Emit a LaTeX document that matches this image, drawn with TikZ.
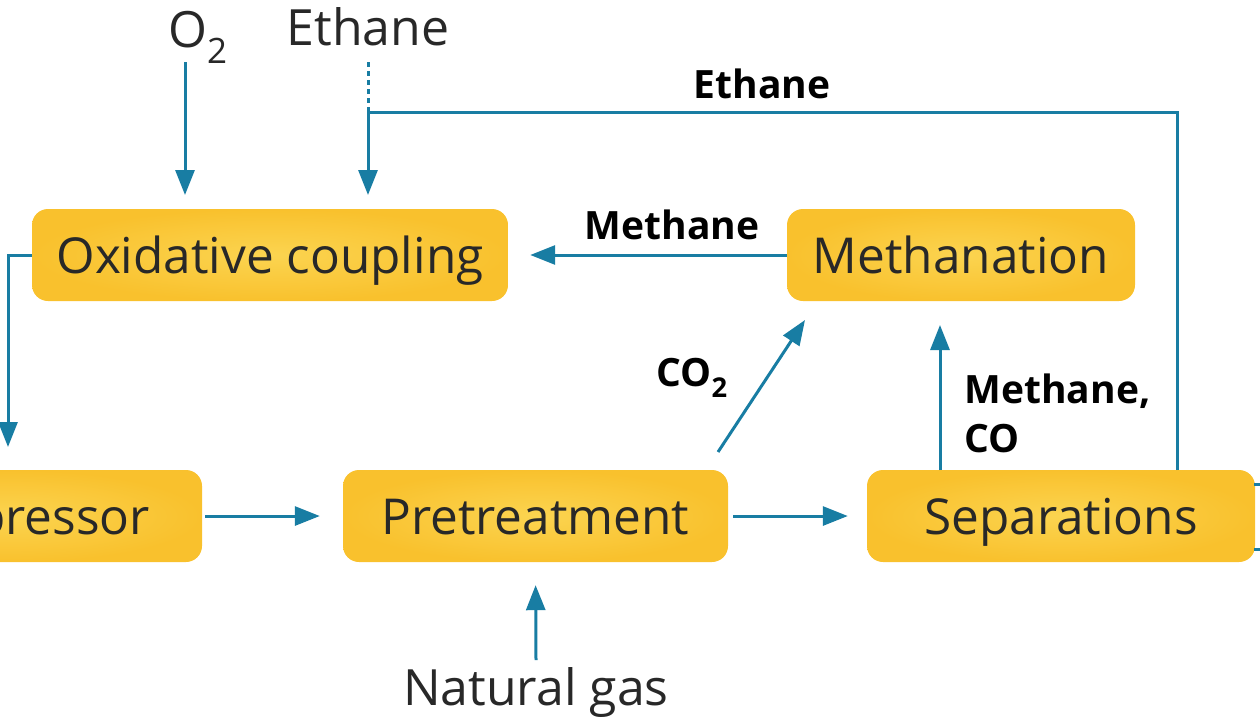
\documentclass[tikz,border=0pt]{standalone}
\usepackage{fontspec}
\setmainfont{Open Sans}
\usetikzlibrary{arrows.meta,calc}
\definecolor{flow}{RGB}{24,125,163}
\definecolor{boxfill}{RGB}{249,193,45}
\definecolor{boxlight}{RGB}{251,212,80}
\definecolor{txt}{RGB}{40,40,40}
\tikzset{
  box/.style={rounded corners=16pt, inner color=boxlight, outer color=boxfill, draw=none,
    minimum height=92pt, text=txt, font=\fontsize{49.5}{54}\selectfont,
    text height=36pt, text depth=0pt},
  flowline/.style={draw=flow, line width=3pt},
  flowarrow/.style={flowline, -{Triangle[length=25pt,width=19pt]}},
  plain/.style={text=txt, font=\fontsize{50}{54}\selectfont},
  tag/.style={text=black, font=\bfseries\fontsize{39}{44}\selectfont}
}
\begin{document}
\begin{tikzpicture}[x=1pt,y=-1pt]
\useasboundingbox (0,0) rectangle (1260,720);
% boxes
\node[box, minimum width=476pt] (ox) at (270,255) {Oxidative coupling};
\node[box, minimum width=348pt] (meth) at (961,255) {Methanation};
\node[box, minimum width=386pt] (comp) at (9,516) {Compressor};
\node[box, minimum width=385pt] (pre) at (535.5,516) {Pretreatment};
\node[box, minimum width=388pt] (sep) at (1061,516) {Separations};
% free labels
\node[plain, anchor=base] (o2) at (198,47) {O\textsubscript{2}};
\node[plain, anchor=base] (eth) at (368,45) {Ethane};
\node[plain, anchor=base] (ng) at (536,705) {Natural gas};
\node[tag, anchor=base] (ethtag) at (762,98) {Ethane};
\node[tag, anchor=base] (methtag) at (672,239) {Methane};
\node[tag, anchor=base] (co2tag) at (692,386) {CO\textsubscript{2}};
\node[tag, anchor=base west] (mctag) at (961,403) {Methane,};
\node[tag, anchor=base west] (cotag) at (961,452) {CO};
% coordinates
\coordinate (o2s) at (185,62);
\coordinate (o2e) at (185,210);
\coordinate (eds) at (368,62);
\coordinate (ej) at (368,112);
\coordinate (ee) at (368,210);
\coordinate (rc) at (1177,112);
\coordinate (rb) at (1177,470);
\coordinate (ol) at (8,255);
\coordinate (cl) at (8,470);
\coordinate (ngs) at (536,660);
\coordinate (co2s) at (718,452);
\coordinate (co2e) at (805,320);
\coordinate (ms) at (940,470);
\coordinate (me) at (940,300);
\coordinate (s1) at (1254,484);
\coordinate (s1e) at (1262,484);
\coordinate (s2) at (1254,549);
\coordinate (s2e) at (1262,549);
% connectors
\draw[flowarrow, shorten >=15pt] (o2s) -- (o2e);
\draw[flowline, dash pattern=on 5pt off 4pt] (eds) -- (ej);
\draw[flowarrow, shorten >=15pt] (ej) -- (ee);
\draw[flowline] (rb) -- (rc) -- (ej);
\draw[flowarrow, shorten >=23pt] (ox.west) -- (ol) -- (cl);
\draw[flowarrow, shorten <=3pt, shorten >=23pt] (comp.east) -- (pre.west);
\draw[flowarrow, shorten <=5pt, shorten >=19pt] (pre.east) -- (sep.west);
\draw[flowarrow, shorten >=23pt] (ngs) -- (pre.south);
\draw[flowarrow] (co2s) -- (co2e);
\draw[flowarrow, shorten >=25pt] (ms) -- (me);
\draw[flowarrow, shorten >=22pt] (meth.west) -- (ox.east);
\draw[flowline] (s1) -- (s1e);
\draw[flowline] (s2) -- (s2e);
\end{tikzpicture}
\end{document}
